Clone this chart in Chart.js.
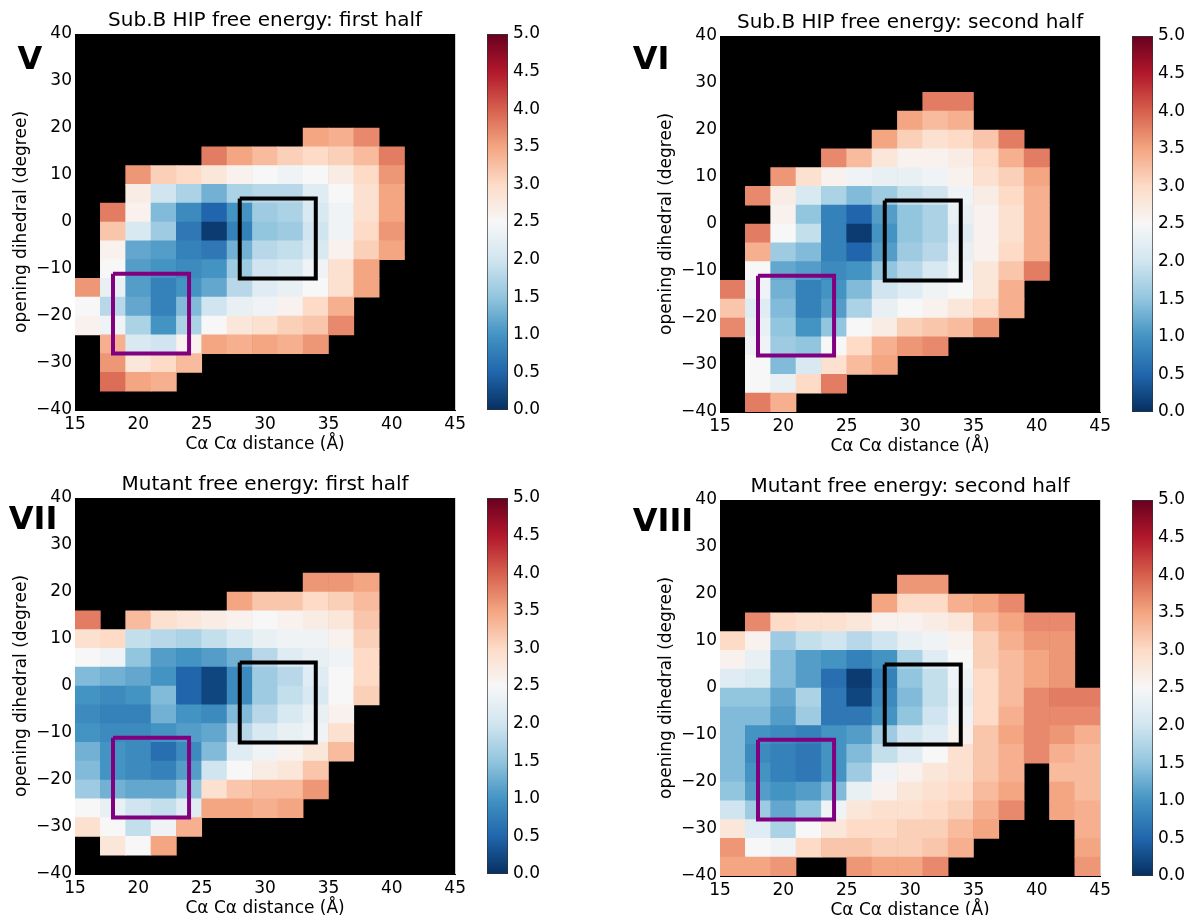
<!DOCTYPE html>
<html>
<head>
<meta charset="utf-8">
<script src="https://cdn.jsdelivr.net/npm/chart.js@4.4.1/dist/chart.umd.min.js"></script>
<style>
body { margin: 0; background: #fff; width: 1187px; height: 915px; position: relative; overflow: hidden; }
canvas { position: absolute; }
.tag { position: absolute; font-family: "DejaVu Sans", sans-serif; font-weight: bold; font-size: 32px; line-height: 1; transform: translate(-50%, -50%); color: #000; }
</style>
</head>
<body>
<canvas id="mapV" width="470" height="455" style="left:0px;top:0px"></canvas>
<canvas id="barV" width="70" height="455" style="left:480px;top:0px"></canvas>
<canvas id="mapVI" width="470" height="455" style="left:645px;top:2px"></canvas>
<canvas id="barVI" width="70" height="455" style="left:1125px;top:2px"></canvas>
<canvas id="mapVII" width="470" height="455" style="left:0px;top:464px"></canvas>
<canvas id="barVII" width="70" height="455" style="left:480px;top:464px"></canvas>
<canvas id="mapVIII" width="470" height="455" style="left:645px;top:466px"></canvas>
<canvas id="barVIII" width="70" height="455" style="left:1125px;top:466px"></canvas>
<div class="tag" style="left:30px;top:58px">V</div>
<div class="tag" style="left:651px;top:58px">VI</div>
<div class="tag" style="left:33px;top:518px">VII</div>
<div class="tag" style="left:663px;top:520px">VIII</div>
<script>
const _ = null;

// bin centres: distance bins of 2 Å, dihedral bins of 4 degrees
const xCenters = [16, 18, 20, 22, 24, 26, 28, 30, 32, 34, 36, 38, 40, 42, 44];
const yCenters = [38, 34, 30, 26, 22, 18, 14, 10, 6, 2, -2, -6, -10, -14, -18, -22, -26, -30, -34, -38];

// free energy per cell, rows from top (+40) to bottom (-40), null = no sampling
const energyV = [
  [_,_,_,_,_,_,_,_,_,_,_,_,_,_,_],
  [_,_,_,_,_,_,_,_,_,_,_,_,_,_,_],
  [_,_,_,_,_,_,_,_,_,_,_,_,_,_,_],
  [_,_,_,_,_,_,_,_,_,_,_,_,_,_,_],
  [_,_,_,_,_,_,_,_,_,_,_,_,_,_,_],
  [_,_,_,_,_,_,_,_,_,3.5,3.4,3.7,_,_,_],
  [_,_,_,_,_,3.8,3.5,3.3,3.1,3.0,3.1,3.3,3.8,_,_],
  [_,_,3.6,3.1,3.0,2.8,2.6,2.5,2.4,2.5,2.7,3.0,3.6,_,_],
  [_,_,2.7,2.0,1.7,1.3,1.7,1.8,1.8,2.2,2.5,2.9,3.5,_,_],
  [_,3.8,2.6,1.4,0.9,0.5,1.0,1.6,1.7,2.1,2.4,2.9,3.5,_,_],
  [_,3.2,2.1,1.6,0.7,0.1,0.8,1.5,1.6,2.0,2.4,3.0,3.6,_,_],
  [_,2.6,1.2,1.1,0.8,0.7,1.3,1.8,1.9,2.1,2.6,3.1,3.5,_,_],
  [_,2.5,1.1,1.0,0.9,1.0,1.6,2.0,2.1,2.4,2.9,3.5,_,_,_],
  [3.6,2.3,1.1,0.8,1.0,1.2,1.8,2.2,2.3,2.5,2.9,3.5,_,_,_],
  [2.5,1.8,1.2,0.8,1.4,2.0,2.3,2.4,2.6,3.0,3.4,_,_,_,_],
  [2.6,2.4,1.7,1.0,1.7,2.5,2.8,2.9,3.1,3.2,3.7,_,_,_,_],
  [_,3.4,2.1,2.0,2.6,3.5,3.4,3.5,3.4,3.6,_,_,_,_,_],
  [_,3.6,2.8,3.0,3.3,_,_,_,_,_,_,_,_,_,_],
  [_,3.9,3.5,3.4,_,_,_,_,_,_,_,_,_,_,_],
  [_,_,_,_,_,_,_,_,_,_,_,_,_,_,_]
];

const energyVI = [
  [_,_,_,_,_,_,_,_,_,_,_,_,_,_,_],
  [_,_,_,_,_,_,_,_,_,_,_,_,_,_,_],
  [_,_,_,_,_,_,_,_,_,_,_,_,_,_,_],
  [_,_,_,_,_,_,_,_,3.8,3.8,_,_,_,_,_],
  [_,_,_,_,_,_,_,3.5,3.3,3.4,_,_,_,_,_],
  [_,_,_,_,_,_,3.5,3.1,2.9,3.0,3.2,3.8,_,_,_],
  [_,_,_,_,3.7,3.3,2.8,2.6,2.6,2.7,3.0,3.4,3.8,_,_],
  [_,_,3.6,2.9,2.6,2.4,2.3,2.3,2.4,2.6,2.9,3.1,3.5,_,_],
  [_,3.7,2.7,2.1,1.7,1.4,1.6,1.9,2.0,2.4,2.7,3.0,3.4,_,_],
  [_,_,2.6,1.5,0.8,0.5,1.1,1.5,1.7,2.3,2.6,2.9,3.4,_,_],
  [_,3.8,2.5,1.9,0.8,0.1,1.0,1.5,1.7,2.2,2.6,2.9,3.4,_,_],
  [_,3.4,1.6,1.4,0.8,0.5,1.1,1.6,1.8,2.3,2.6,3.0,3.4,_,_],
  [_,2.5,1.2,1.1,0.9,1.0,1.5,1.8,2.1,2.4,2.8,3.2,3.8,_,_],
  [3.8,2.4,1.3,0.8,1.0,1.4,2.0,2.2,2.4,2.5,2.8,3.4,_,_,_],
  [3.2,2.2,1.4,0.8,1.1,1.7,2.3,2.5,2.6,2.8,3.0,3.4,_,_,_],
  [3.7,2.3,1.5,1.0,1.5,2.5,2.7,3.1,3.2,3.3,3.6,_,_,_,_],
  [_,2.4,1.6,1.5,2.5,3.0,3.4,3.6,3.7,_,_,_,_,_,_],
  [_,2.5,1.4,2.1,2.9,3.3,3.5,_,_,_,_,_,_,_,_],
  [_,2.5,2.3,3.0,3.8,_,_,_,_,_,_,_,_,_,_],
  [_,3.8,3.4,_,_,_,_,_,_,_,_,_,_,_,_]
];

const energyVII = [
  [_,_,_,_,_,_,_,_,_,_,_,_,_,_,_],
  [_,_,_,_,_,_,_,_,_,_,_,_,_,_,_],
  [_,_,_,_,_,_,_,_,_,_,_,_,_,_,_],
  [_,_,_,_,_,_,_,_,_,_,_,_,_,_,_],
  [_,_,_,_,_,_,_,_,_,3.6,3.6,3.5,_,_,_],
  [_,_,_,_,_,_,3.5,3.2,3.2,3.0,3.1,3.3,_,_,_],
  [3.8,_,3.3,2.9,2.8,2.7,2.6,2.5,2.6,2.7,2.8,3.2,_,_,_],
  [2.9,3.0,1.9,1.8,1.7,1.9,2.1,2.3,2.4,2.4,2.6,3.1,_,_,_],
  [2.5,2.4,1.5,1.1,1.0,1.1,1.3,1.8,2.2,2.3,2.4,3.0,_,_,_],
  [1.4,1.3,1.2,1.0,0.5,0.2,0.9,1.6,1.8,2.2,2.5,3.0,_,_,_],
  [1.0,0.9,1.0,1.4,0.5,0.2,0.9,1.6,1.9,2.1,2.5,3.1,_,_,_],
  [0.9,0.8,0.8,1.3,1.0,0.9,1.4,1.8,2.1,2.3,2.6,_,_,_,_],
  [1.0,0.9,0.9,1.0,1.1,1.2,1.8,2.1,2.3,2.4,2.9,_,_,_,_],
  [1.3,1.0,0.9,0.6,0.9,1.4,2.2,2.4,2.6,2.8,3.3,_,_,_,_],
  [1.4,1.0,0.9,0.8,1.1,2.0,2.5,2.7,2.8,3.2,_,_,_,_,_],
  [1.6,1.3,1.2,1.2,1.5,2.9,3.2,3.3,3.3,3.6,_,_,_,_,_],
  [2.5,2.3,2.0,1.9,2.2,3.5,3.5,3.4,3.5,_,_,_,_,_,_],
  [2.9,2.5,1.9,2.4,3.4,_,_,_,_,_,_,_,_,_,_],
  [_,2.8,2.5,3.5,_,_,_,_,_,_,_,_,_,_,_],
  [_,_,_,_,_,_,_,_,_,_,_,_,_,_,_]
];

const energyVIII = [
  [_,_,_,_,_,_,_,_,_,_,_,_,_,_,_],
  [_,_,_,_,_,_,_,_,_,_,_,_,_,_,_],
  [_,_,_,_,_,_,_,_,_,_,_,_,_,_,_],
  [_,_,_,_,_,_,_,_,_,_,_,_,_,_,_],
  [_,_,_,_,_,_,_,3.6,3.6,_,_,_,_,_,_],
  [_,_,_,_,_,_,3.5,3.0,3.0,3.4,3.5,3.7,_,_,_],
  [_,3.7,3.0,2.9,2.9,2.8,2.6,2.6,2.7,2.8,3.3,3.5,3.7,3.7,_],
  [3.0,2.6,1.6,1.9,2.0,1.8,2.0,2.3,2.4,2.6,3.1,3.4,3.6,3.6,_],
  [2.6,2.3,1.4,1.1,1.0,0.8,1.0,1.7,2.2,2.5,3.1,3.3,3.5,3.6,_],
  [2.2,2.1,1.4,1.1,0.6,0.1,0.8,1.5,1.9,2.4,3.0,3.3,3.5,3.6,_],
  [1.5,1.5,1.2,1.7,0.7,0.2,0.9,1.4,1.9,2.3,3.0,3.3,3.7,3.8,3.8],
  [1.4,1.4,1.1,1.6,0.7,0.7,1.0,1.5,2.0,2.4,3.0,3.4,3.7,3.7,3.7],
  [1.4,1.0,0.9,0.8,1.0,1.1,1.6,2.0,2.2,2.6,3.2,3.5,3.7,3.6,3.4],
  [1.4,0.9,0.8,0.7,1.0,1.4,1.9,2.2,2.5,2.9,3.2,3.4,3.7,3.4,3.3],
  [1.4,1.0,0.8,0.7,1.0,1.6,2.4,2.6,2.8,2.9,3.2,3.4,_,3.3,3.3],
  [1.5,1.1,1.0,1.1,1.4,2.3,2.6,2.8,2.9,3.0,3.3,3.5,_,3.5,3.3],
  [2.0,1.6,1.2,1.5,2.4,2.8,2.9,2.9,3.0,3.1,3.4,3.7,_,3.5,3.4],
  [2.8,2.2,1.7,2.5,2.8,3.0,3.0,3.1,3.1,3.3,3.5,_,_,_,3.4],
  [3.6,2.5,2.4,3.0,3.2,3.2,3.1,3.1,3.2,3.4,_,_,_,_,3.5],
  [3.5,3.5,3.6,_,_,3.6,3.5,3.5,3.7,_,_,_,_,_,3.6]
];

// the two marked regions
const blackBoxX = [28, 34, 34, 28, 28];
const blackBoxY = [5, 5, -12, -12, 5];
const purpleBoxX = [18, 24, 24, 18, 18];
const purpleBoxY = [-11, -11, -28, -28, -11];

// colour bar range
const cbarMin = 0;
const cbarMax = 5;

// RdBu_r
const rdbuR = ['#053061', '#2166ac', '#4393c3', '#92c5de', '#d1e5f0', '#f7f7f7',
               '#fddbc7', '#f4a582', '#d6604d', '#b2182b', '#67001f'];

Chart.defaults.font.family = "'DejaVu Sans', sans-serif";
Chart.defaults.color = '#000';

function hexToRgb(h) {
    return [parseInt(h.slice(1, 3), 16), parseInt(h.slice(3, 5), 16), parseInt(h.slice(5, 7), 16)];
}

function cmap(v) {
    let t = (v - cbarMin) / (cbarMax - cbarMin);
    t = Math.max(0, Math.min(1, t)) * (rdbuR.length - 1);
    const i = Math.min(Math.floor(t), rdbuR.length - 2);
    const f = t - i;
    const a = hexToRgb(rdbuR[i]);
    const b = hexToRgb(rdbuR[i + 1]);
    const c = a.map((k, j) => Math.round(k + (b[j] - k) * f));
    return `rgb(${c[0]},${c[1]},${c[2]})`;
}

// black axes background like the original plot
const blackBack = {
    id: 'blackBack',
    beforeDatasetsDraw(chart) {
        const { ctx, chartArea: a } = chart;
        ctx.save();
        ctx.fillStyle = '#000';
        ctx.fillRect(a.left, a.top, a.width, a.height);
        ctx.restore();
    }
};

function boxPoints(xs, ys) {
    return xs.map((x, i) => ({ x: x, y: ys[i] }));
}

function makeMap(id, title, grid) {
    const cells = [];
    grid.forEach((row, r) => {
        row.forEach((v, c) => {
            if (v === null) return;
            cells.push({ x: xCenters[c], y: [yCenters[r] - 2, yCenters[r] + 2], v: v });
        });
    });

    new Chart(document.getElementById(id), {
        type: 'bar',
        data: {
            datasets: [
                {
                    type: 'line',
                    data: boxPoints(blackBoxX, blackBoxY),
                    borderColor: '#000',
                    borderWidth: 4,
                    pointRadius: 0,
                    fill: false,
                    tension: 0,
                    borderJoinStyle: 'miter',
                    order: 0
                },
                {
                    type: 'line',
                    data: boxPoints(purpleBoxX, purpleBoxY),
                    borderColor: '#800080',
                    borderWidth: 4,
                    pointRadius: 0,
                    fill: false,
                    tension: 0,
                    borderJoinStyle: 'miter',
                    order: 0
                },
                {
                    type: 'bar',
                    data: cells,
                    backgroundColor: ctx => (ctx.raw ? cmap(ctx.raw.v) : '#000'),
                    borderWidth: 0,
                    barPercentage: 1,
                    categoryPercentage: 1,
                    order: 1
                }
            ]
        },
        options: {
            responsive: false,
            animation: false,
            layout: { padding: { left: 9, right: 10, top: 4, bottom: 0 } },
            plugins: {
                legend: { display: false },
                tooltip: { enabled: false },
                title: {
                    display: true,
                    text: title,
                    fullSize: false,
                    color: '#000',
                    font: { size: 20, weight: 'normal' },
                    padding: { top: 5, bottom: 1 }
                }
            },
            scales: {
                x: {
                    type: 'linear',
                    min: 15,
                    max: 45,
                    offset: false,
                    grid: { display: false, drawTicks: false, offset: false },
                    border: { display: true, color: '#000' },
                    ticks: { stepSize: 5, padding: 4, font: { size: 17 }, color: '#000', maxRotation: 0, autoSkip: false },
                    title: { display: true, text: 'Cα Cα distance (Å)', font: { size: 17 }, color: '#000', padding: { top: 0, bottom: 0 } },
                    afterFit: s => { s.height = 45; }
                },
                y: {
                    type: 'linear',
                    min: -40,
                    max: 40,
                    grid: { display: false, drawTicks: false },
                    border: { display: true, color: '#000' },
                    ticks: {
                        stepSize: 10,
                        padding: 3,
                        font: { size: 17 },
                        color: '#000',
                        autoSkip: false,
                        callback: v => String(v).replace('-', '\u2212')
                    },
                    title: { display: true, text: 'opening dihedral (degree)', font: { size: 17 }, color: '#000', padding: { top: 2, bottom: 0 } },
                    afterFit: s => { s.width = 66; }
                }
            }
        },
        plugins: [blackBack]
    });
}

function makeColorBar(id) {
    new Chart(document.getElementById(id), {
        type: 'bar',
        data: {
            labels: [''],
            datasets: [{
                data: [[cbarMin, cbarMax]],
                backgroundColor: ctx => {
                    const a = ctx.chart.chartArea;
                    if (!a) return '#888';
                    const g = ctx.chart.ctx.createLinearGradient(0, a.bottom, 0, a.top);
                    rdbuR.forEach((c, i) => g.addColorStop(i / (rdbuR.length - 1), c));
                    return g;
                },
                borderColor: '#333',
                borderWidth: 1,
                borderSkipped: false,
                barPercentage: 1,
                categoryPercentage: 1
            }]
        },
        options: {
            responsive: false,
            animation: false,
            layout: { padding: { left: 7, right: 0, top: 34, bottom: 45 } },
            plugins: { legend: { display: false }, tooltip: { enabled: false } },
            scales: {
                x: { display: false },
                y: {
                    position: 'right',
                    min: cbarMin,
                    max: cbarMax,
                    grid: { display: false, drawTicks: false },
                    border: { display: false },
                    ticks: { stepSize: 0.5, padding: 5, font: { size: 17 }, color: '#000', callback: v => v.toFixed(1) },
                    afterFit: s => { s.width = 42; }
                }
            }
        }
    });
}

makeMap('mapV', 'Sub.B HIP free energy: first half', energyV);
makeMap('mapVI', 'Sub.B HIP free energy: second half', energyVI);
makeMap('mapVII', 'Mutant free energy: first half', energyVII);
makeMap('mapVIII', 'Mutant free energy: second half', energyVIII);

makeColorBar('barV');
makeColorBar('barVI');
makeColorBar('barVII');
makeColorBar('barVIII');
</script>
</body>
</html>
